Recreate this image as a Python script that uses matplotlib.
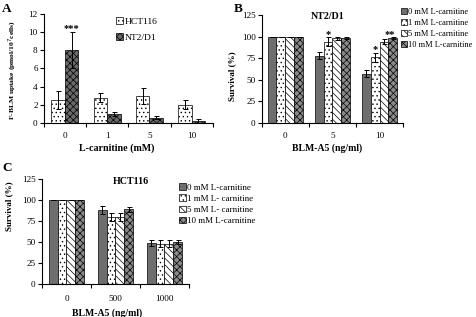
import numpy as np
import matplotlib.pyplot as plt

plt.rcParams['font.family'] = ['Liberation Serif', 'DejaVu Serif']
plt.rcParams['hatch.linewidth'] = 0.5

# Panel A: F-BLM uptake
carn_labels = ['0', '1', '5', '10']
hct_uptake = [2.5, 2.8, 3.0, 2.0]
hct_uptake_err = [1.0, 0.5, 0.9, 0.5]
nt2_uptake = [8.0, 1.0, 0.6, 0.2]
nt2_uptake_err = [2.0, 0.2, 0.2, 0.2]

# Panel B: NT2/D1 survival
nt2_doses = ['0', '5', '10']
nt2_surv = {
    '0 mM L-carnitine': [100, 78, 57],
    '1 mM L-carnitine': [100, 94, 76],
    '5 mM L-carnitine': [100, 98, 94],
    '10 mM L-carnitine': [100, 98, 98],
}
nt2_surv_err = {
    '0 mM L-carnitine': [0, 4, 4],
    '1 mM L-carnitine': [0, 5, 5],
    '5 mM L-carnitine': [0, 2, 3],
    '10 mM L-carnitine': [0, 1, 1],
}

# Panel C: HCT116 survival
hct_doses = ['0', '500', '1000']
hct_surv = {
    '0 mM L-carnitine': [100, 88, 49],
    '1 mM L- carnitine': [100, 80, 48],
    '5 mM L- carnitine': [100, 80, 48],
    '10 mM L-carnitine': [100, 89, 50],
}
hct_surv_err = {
    '0 mM L-carnitine': [0, 5, 4],
    '1 mM L- carnitine': [0, 5, 4],
    '5 mM L- carnitine': [0, 5, 4],
    '10 mM L-carnitine': [0, 3, 2],
}

styles = [
    dict(facecolor='#6e6e6e', hatch=None),
    dict(facecolor='white', hatch='....'),
    dict(facecolor='white', hatch='\\\\\\\\\\'),
    dict(facecolor='#8a8a8a', hatch='xxxxx'),
]
ekw = dict(elinewidth=0.7, capthick=0.7)
TICK = 6.6


def excel_axes(ax, ncat, ymax, ystep, pad):
    ax.spines['top'].set_visible(False)
    ax.spines['right'].set_visible(False)
    ax.set_xlim(-0.5, ncat - 0.5)
    ax.set_ylim(0, ymax)
    ax.set_yticks(np.arange(0, ymax + 0.1, ystep))
    ax.set_xticks(np.arange(ncat))
    ax.tick_params(axis='x', length=0, labelsize=TICK, pad=pad)
    ax.set_xticks(np.arange(-0.5, ncat, 1), minor=True)
    ax.tick_params(axis='x', which='minor', length=3, width=0.8)
    ax.tick_params(axis='y', length=3, width=0.8, labelsize=TICK, pad=1.5)
    for s in ['left', 'bottom']:
        ax.spines[s].set_linewidth(0.8)


def grouped(ax, data, errs, ncat, width):
    keys = list(data.keys())
    n = len(keys)
    x = np.arange(ncat)
    for i, k in enumerate(keys):
        pos = x + (i - (n - 1) / 2) * width
        ax.bar(pos, data[k], width, edgecolor='black', linewidth=0.5,
               yerr=errs[k], capsize=1.8, error_kw=ekw, label=k,
               **styles[i])


def fig_legend(ax, x, y, fs, spacing):
    ax.legend(loc='upper left', bbox_to_anchor=(x, y),
              bbox_transform=fig.transFigure, frameon=False, fontsize=fs,
              handlelength=0.75, handleheight=0.75, handletextpad=0.15,
              labelspacing=spacing, borderpad=0, borderaxespad=0)


fig = plt.figure(figsize=(4.77, 3.17), dpi=100)

# A
axA = fig.add_axes([0.092, 0.612, 0.354, 0.344])
excel_axes(axA, 4, 12, 2, 6.5)
w = 0.32
x = np.arange(4)
axA.bar(x - w / 2, hct_uptake, w, yerr=hct_uptake_err, capsize=1.8,
        edgecolor='black', linewidth=0.5, facecolor='white', hatch='....',
        error_kw=ekw, label='HCT116')
axA.bar(x + w / 2, nt2_uptake, w, yerr=nt2_uptake_err, capsize=1.8,
        edgecolor='black', linewidth=0.5, facecolor='#6a6a6a', hatch='xxxxx',
        error_kw=ekw, label='NT2/D1')
axA.set_xticklabels(carn_labels)
axA.text(x[0] + w / 2, nt2_uptake[0] + nt2_uptake_err[0] + 0.1, '***',
         ha='center', fontsize=7.5, fontweight='bold')
axA.set_xlabel('L-carnitine (mM)', fontsize=7.2, fontweight='bold')
axA.xaxis.set_label_coords(0.43, -0.19)
axA.set_ylabel('F-BLM uptake (pmol/10$^7$cells)', fontsize=5.4,
               fontweight='bold')
axA.yaxis.set_label_coords(-0.145, 0.49)
fig_legend(axA, 0.243, 0.945, 6.8, 0.7)
fig.text(0.004, 0.99, 'A', fontsize=9.5, fontweight='bold', va='top')

# B
axB = fig.add_axes([0.549, 0.612, 0.296, 0.341])
excel_axes(axB, 3, 125, 25, 6.5)
grouped(axB, nt2_surv, nt2_surv_err, 3, 0.19)
axB.set_xticklabels(nt2_doses)
fig.text(0.688, 0.947, 'NT2/D1', fontsize=7.2, fontweight='bold',
         ha='center', va='center')
axB.set_xlabel('BLM-A5 (ng/ml)', fontsize=7, fontweight='bold')
axB.xaxis.set_label_coords(0.465, -0.19)
axB.set_ylabel('Survival (%)', fontsize=6.5, fontweight='bold')
axB.yaxis.set_label_coords(-0.18, 0.43)
xB = np.arange(3)
axB.text(xB[1] - 0.5 * 0.19, 94 + 5 + 1, '*', ha='center', fontsize=7.5,
         fontweight='bold')
axB.text(xB[2] - 0.5 * 0.19, 76 + 5 + 1, '*', ha='center', fontsize=7.5,
         fontweight='bold')
axB.text(xB[2] + 1.2 * 0.19, 98 + 1 + 1, '**', ha='center', fontsize=7.5,
         fontweight='bold')
fig_legend(axB, 0.84, 0.975, 6.0, 0.35)
fig.text(0.49, 0.99, 'B', fontsize=9.5, fontweight='bold', va='top')

# C
axC = fig.add_axes([0.088, 0.104, 0.308, 0.331])
excel_axes(axC, 3, 125, 25, 8)
grouped(axC, hct_surv, hct_surv_err, 3, 0.18)
axC.set_xticklabels(hct_doses)
fig.text(0.275, 0.426, 'HCT116', fontsize=7.2, fontweight='bold',
         ha='center', va='center')
axC.set_xlabel('BLM-A5 (ng/ml)', fontsize=7, fontweight='bold')
axC.xaxis.set_label_coords(0.44, -0.23)
axC.set_ylabel('Survival (%)', fontsize=6.5, fontweight='bold')
axC.yaxis.set_label_coords(-0.194, 0.74)
fig_legend(axC, 0.375, 0.422, 6.5, 0.3)
fig.text(0.004, 0.49, 'C', fontsize=9.5, fontweight='bold', va='top')

fig.savefig('out.png', dpi=100)
